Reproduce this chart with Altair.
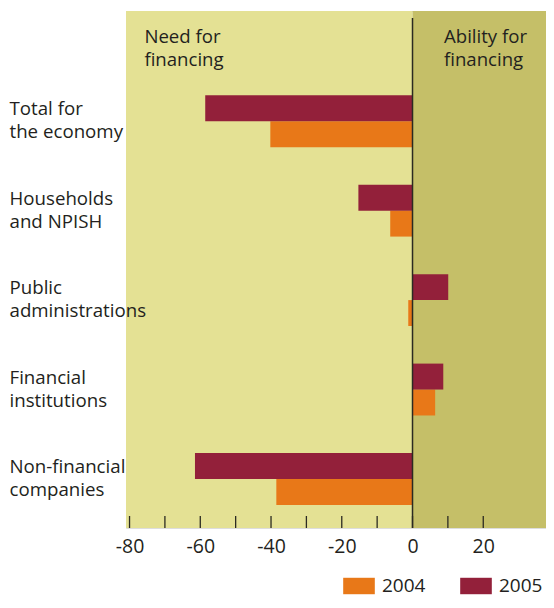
import altair as alt
import pandas as pd

categories = ["Total for\nthe economy", "Households\nand NPISH", "Public\nadministrations",
              "Financial\ninstitutions", "Non-financial\ncompanies"]
years = ["2004", "2005"]
values_2004 = [-40.2, -6.3, -1.2, 6.4, -38.5]
values_2005 = [-58.6, -15.3, 10.1, 8.7, -61.5]
tick_values = [-80, -70, -60, -50, -40, -30, -20, -10, 0, 10, 20]
label_values = [-80, -60, -40, -20, 0, 20]
zones = ["need", "ability"]
zone_start = [-81, 0]
zone_end = [0, 40]
zone_colors = ["#e4e194", "#c5bf68"]
notes = ["Need for\nfinancing", "Ability for\nfinancing"]
note_x = [-75.8, 8.9]
zero_line = [0]

W, H = 428, 517
FONT = "Open Sans"
TXT = "#231f20"

df = pd.DataFrame({
    "category": categories * 2,
    "year": ["2004"] * 5 + ["2005"] * 5,
    "value": values_2004 + values_2005,
})
zdf = pd.DataFrame({"zone": zones, "start": zone_start, "end": zone_end})
tdf = pd.DataFrame({"v": tick_values})
ndf = pd.DataFrame({"note": notes, "x": note_x})
ldf = pd.DataFrame({"z": zero_line})

xscale = alt.Scale(domain=[-81, 40], nice=False, zero=False)
xaxis = alt.Axis(values=label_values, ticks=False, domain=False, grid=False, title=None,
                 labelExpr="'' + datum.value", labelFontSize=19.5, labelColor=TXT,
                 labelPadding=9, labelFont=FONT)

bg = alt.Chart(zdf).mark_rect().encode(
    x=alt.X("start:Q", scale=xscale, axis=xaxis),
    x2="end:Q",
    y=alt.value(0),
    y2=alt.value(H),
    color=alt.Color("zone:N", scale=alt.Scale(domain=zones, range=zone_colors), legend=None),
)

bars = alt.Chart(df).mark_bar().encode(
    x=alt.X("value:Q", scale=xscale, axis=xaxis),
    y=alt.Y("category:N", sort=categories, title=None,
            scale=alt.Scale(paddingInner=0.42, paddingOuter=0.6, align=0.785),
            axis=alt.Axis(ticks=False, domain=False, labelAlign="left", labelBaseline="middle",
                          labelPadding=117, labelFontSize=18.7, labelLineHeight=23,
                          labelOffset=-12, zindex=1,
                          labelColor=TXT, labelFont=FONT, labelLimit=300,
                          labelExpr="split(datum.label, '\\n')")),
    yOffset=alt.YOffset("year:N", sort=["2005", "2004"],
                        scale=alt.Scale(paddingInner=0, paddingOuter=0)),
    fill=alt.Fill("year:N", scale=alt.Scale(domain=years, range=["#e87818", "#93203a"]),
                  legend=alt.Legend(title=None, orient="none", legendX=217, legendY=559,
                                    direction="horizontal",
                                    symbolType="M-1,-0.52H1V0.52H-1Z", symbolSize=1000,
                                    symbolStrokeWidth=0, symbolOpacity=1,
                                    labelFontSize=19, labelOffset=7, columnPadding=34,
                                    labelColor=TXT, labelFont=FONT)),
)

zero = alt.Chart(ldf).mark_rule(color="#2b2a22", strokeWidth=1.5).encode(
    x=alt.X("z:Q", scale=xscale, axis=xaxis), y=alt.value(7), y2=alt.value(H)
)

ticks = alt.Chart(tdf).mark_rule(color="#2b2a22", strokeWidth=1.3).encode(
    x=alt.X("v:Q", scale=xscale, axis=xaxis), y=alt.value(H - 12), y2=alt.value(H)
)

text = alt.Chart(ndf).mark_text(align="left", baseline="alphabetic", fontSize=18.6,
                                lineHeight=23, lineBreak="\n", color=TXT, font=FONT).encode(
    x=alt.X("x:Q", scale=xscale, axis=xaxis), y=alt.value(32), text="note:N"
)

chart = alt.layer(bg, bars, zero, ticks, text).resolve_scale(color="independent").properties(
    width=W, height=H, padding={"left": 1, "top": 3, "right": -8, "bottom": 3}
).configure_view(stroke=None).configure(font=FONT)

chart.save("out.html", embed_options={"renderer": "svg", "actions": False})
